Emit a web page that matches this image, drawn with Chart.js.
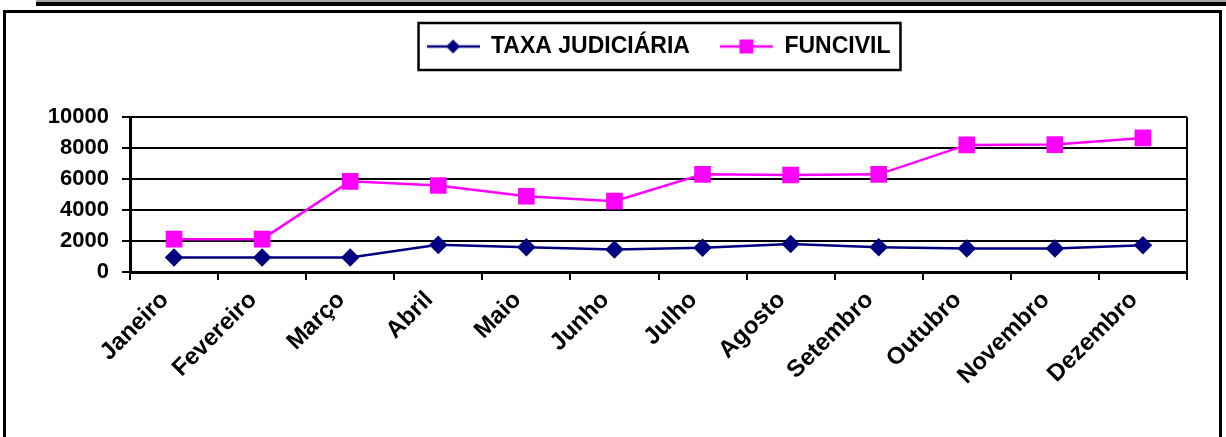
<!DOCTYPE html>
<html>
<head>
<meta charset="utf-8">
<script src="https://cdn.jsdelivr.net/npm/chart.js@4.4.1/dist/chart.umd.min.js"></script>
<style>
    html, body { margin:0; padding:0; background:#fff; overflow:hidden; }
    .top-rule { position:absolute; left:36px; top:0; width:1190px; height:2px; background:#a8a8a8; }
    .top-bar { position:absolute; left:36px; top:2px; width:1190px; height:4px; background:#000; }
    .frame { position:absolute; left:3px; top:10px; width:1213px; height:600px; border:3px solid #000; }
    #chart { position:absolute; left:0; top:0; }
</style>
</head>
<body>
<div class="top-rule"></div><div class="top-bar"></div><div class="frame"></div>
<canvas id="chart" width="1226" height="437"></canvas>
<script>
// ═══ DATA ═══
const months = ['Janeiro', 'Fevereiro', 'Março', 'Abril', 'Maio', 'Junho', 'Julho', 'Agosto', 'Setembro', 'Outubro', 'Novembro', 'Dezembro'];
const taxaJudiciaria = [940, 930, 930, 1750, 1600, 1450, 1560, 1800, 1600, 1520, 1520, 1730];
const funcivil = [2120, 2120, 5850, 5580, 4890, 4570, 6300, 6260, 6300, 8200, 8220, 8650];
const yTicks = [0, 2000, 4000, 6000, 8000, 10000];

const NAVY = '#000080', MAGENTA = '#ff00ff';
const FONT = '"Liberation Sans", Arial, sans-serif';

// legend swatch: short line with the series marker in the middle
function swatch(color, shape) {
    const c = document.createElement('canvas');
    c.width = 53; c.height = 20;
    const g = c.getContext('2d');
    g.strokeStyle = color; g.lineWidth = 2.5;
    g.beginPath(); g.moveTo(0, 10); g.lineTo(53, 10); g.stroke();
    g.fillStyle = color;
    if (shape === 'diamond') { g.beginPath(); g.moveTo(26.5, 3); g.lineTo(33.5, 10); g.lineTo(26.5, 17); g.lineTo(19.5, 10); g.closePath(); g.fill(); }
    else g.fillRect(19.5, 3, 14, 14);
    return c;
}
const swatches = [swatch(NAVY, 'diamond'), swatch(MAGENTA, 'square')];

// legend: fixed height + centred over the plot + bordered box
const legendLayout = {
    id: 'legendLayout',
    beforeLayout(chart) {
        const lg = chart.legend;
        if (lg && !lg._fixed) {
            const fit = lg.fit;
            lg.fit = function () { fit.call(this); this.height = 112; };
            lg._fixed = true;
        }
    },
    afterLayout(chart) {
        const lg = chart.legend, a = chart.chartArea;
        const dx = (a.left + a.right) / 2 - (lg.left + lg.right) / 2;
        lg.left += dx; lg.right += dx;
    },
    afterDraw(chart) {
        const hb = chart.legend.legendHitBoxes, a = chart.chartArea, ctx = chart.ctx;
        if (!hb || !hb.length) return;
        const first = hb[0], last = hb[hb.length - 1];
        ctx.save();
        ctx.strokeStyle = '#000'; ctx.lineWidth = 2.5;
        ctx.strokeRect(first.left - 8, first.top - 12, last.left + last.width - first.left + 18, first.height + 24);
        // right border of the plot
        ctx.lineWidth = 2;
        ctx.beginPath(); ctx.moveTo(a.right, a.top); ctx.lineTo(a.right, a.bottom); ctx.stroke();
        ctx.restore();
    }
};

Chart.defaults.color = '#000';
Chart.defaults.font.family = FONT;
Chart.defaults.font.weight = 'bold';

new Chart(document.getElementById('chart'), {
    type: 'line',
    data: {
        labels: months,
        datasets: [
            { label: 'TAXA JUDICIÁRIA', data: taxaJudiciaria, borderColor: NAVY, backgroundColor: NAVY, borderWidth: 2.5,
              pointStyle: 'rectRot', pointRadius: 7.5, pointHoverRadius: 7.5, tension: 0 },
            { label: 'FUNCIVIL', data: funcivil, borderColor: MAGENTA, backgroundColor: MAGENTA, borderWidth: 2.5,
              pointStyle: 'rect', pointRadius: 10, pointHoverRadius: 10, tension: 0 }
        ]
    },
    options: {
        responsive: false, animation: false,
        layout: { padding: { top: 5, right: 39, left: 0, bottom: 0 } },
        plugins: {
            tooltip: { enabled: false },
            legend: {
                position: 'top',
                labels: {
                    usePointStyle: true, pointStyleWidth: 53, padding: 30,
                    font: { size: 23, weight: 'bold', family: FONT },
                    generateLabels(chart) {
                        return chart.data.datasets.map((ds, i) => ({
                            text: ds.label, datasetIndex: i, pointStyle: swatches[i],
                            fillStyle: ds.borderColor, strokeStyle: ds.borderColor, lineWidth: 0, fontColor: '#000'
                        }));
                    }
                }
            }
        },
        scales: {
            x: {
                offset: true,
                grid: { offset: true, drawOnChartArea: false, drawTicks: true, tickLength: 8, color: '#000', lineWidth: 2 },
                border: { display: true, color: '#000', width: 3 },
                ticks: { minRotation: 45, maxRotation: 45, autoSkip: false, padding: 6, labelOffset: -9, font: { size: 24, weight: 'bold' } },
                afterFit(scale) { scale.height = 165; }
            },
            y: {
                min: 0, max: 10000,
                afterBuildTicks(scale) { scale.ticks = yTicks.map(v => ({ value: v })); },
                grid: { color: '#000', lineWidth: 2, drawTicks: true, tickLength: 8 },
                border: { display: true, color: '#000', width: 3 },
                ticks: { padding: 13, font: { size: 22, weight: 'bold' }, callback: v => String(v) },
                afterFit(scale) { scale.width = 130; }
            }
        }
    },
    plugins: [legendLayout]
});
</script>
</body>
</html>
